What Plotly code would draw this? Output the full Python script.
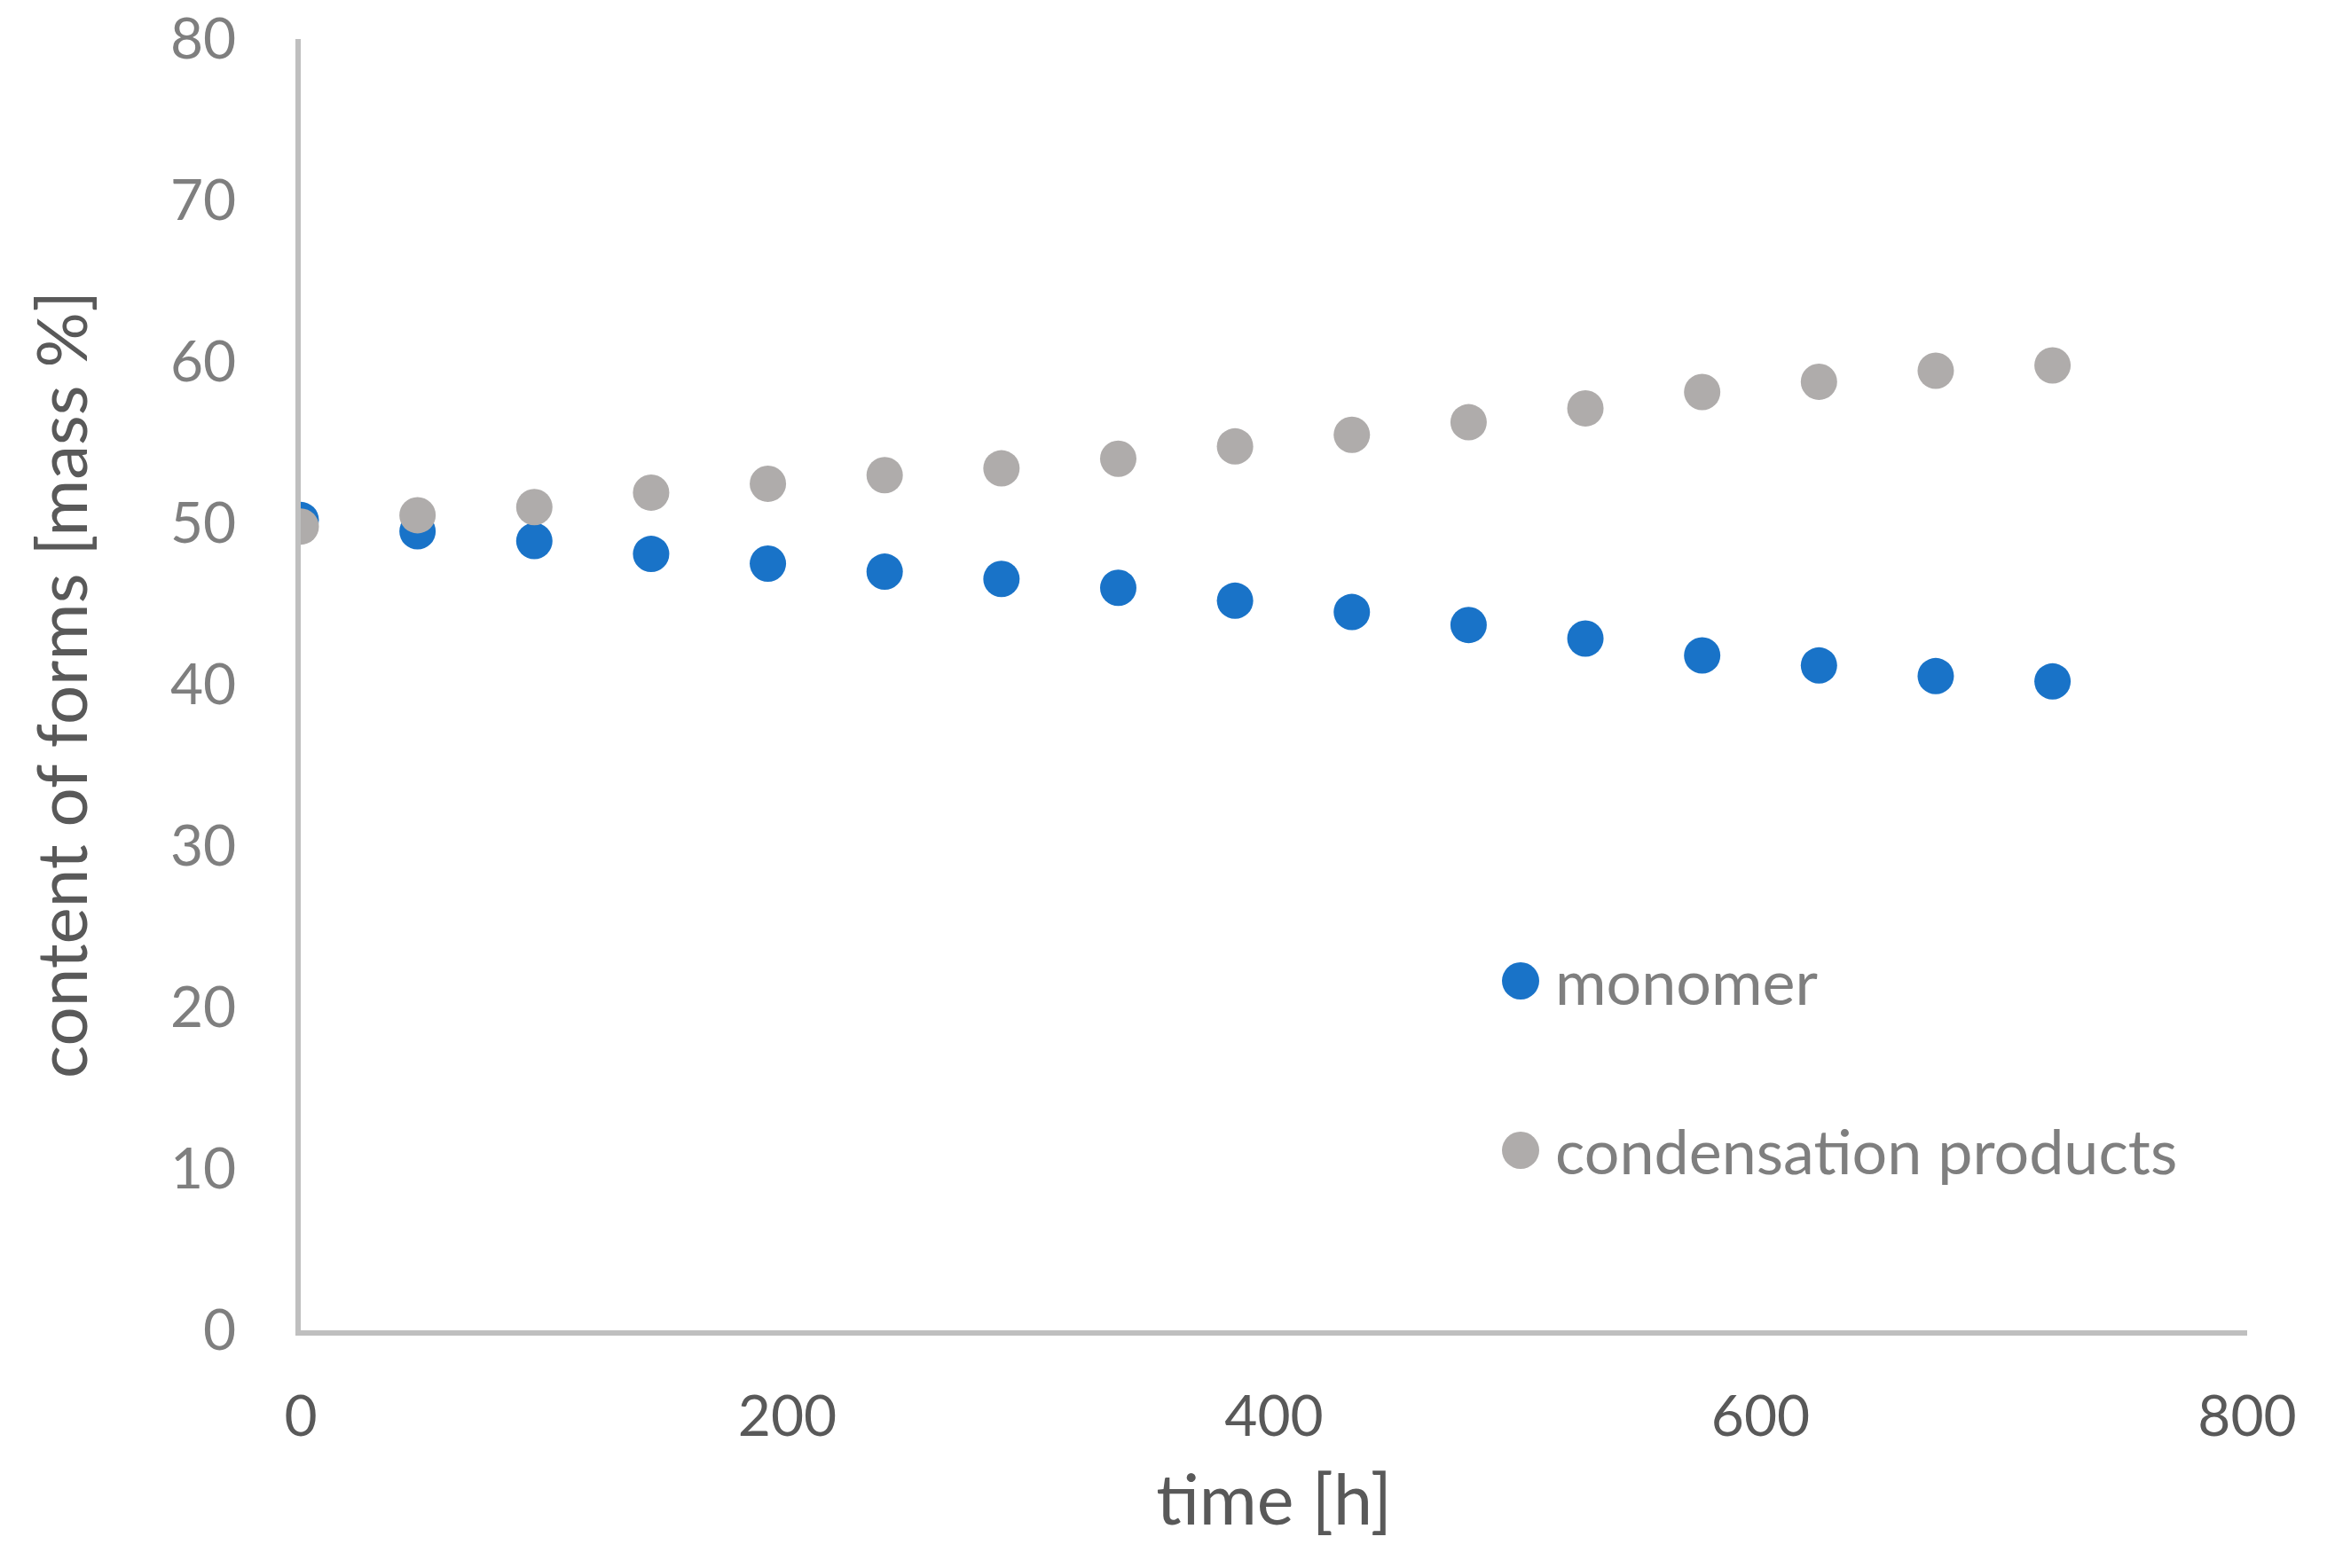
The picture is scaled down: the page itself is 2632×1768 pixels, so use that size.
import plotly.graph_objects as go

time_h = [0, 48, 96, 144, 192, 240, 288, 336, 384, 432, 480, 528, 576, 624, 672, 720]
monomer = [50.2, 49.5, 48.9, 48.1, 47.5, 47.0, 46.55, 46.0, 45.2, 44.5, 43.7, 42.86, 41.81, 41.19, 40.53, 40.2]
condensation = [49.8, 50.5, 51.0, 51.9, 52.45, 52.98, 53.4, 54.0, 54.76, 55.48, 56.26, 57.12, 58.13, 58.77, 59.45, 59.78]
series_names = ["monomer", "condensation products"]
x_ticks = [0, 200, 400, 600, 800]
y_ticks = [0, 10, 20, 30, 40, 50, 60, 70, 80]

BLUE = "#1973C8"
GREY = "#AFACAB"
FONT = "Lato"

fig = go.Figure()
fig.add_trace(go.Scatter(x=time_h, y=monomer, mode="markers", name=series_names[0],
                         marker=dict(size=41, color=BLUE), showlegend=False))
fig.add_trace(go.Scatter(x=time_h, y=condensation, mode="markers", name=series_names[1],
                         marker=dict(size=41, color=GREY), showlegend=False))

W, H = 2632, 1768
L, T = 339, 44
R = W - 2533
B = H - 1500
pw, ph = W - L - R, H - T - B

def px_x(p):
    return (p - L) / pw

def px_y(p):
    return (H - B - p) / ph

# custom legend (large markers like the original)
legend_rows = [(series_names[0], BLUE, 1106), (series_names[1], GREY, 1297)]
shapes = []
annotations = []
for name, col, ypx in legend_rows:
    shapes.append(dict(type="circle", xref="paper", yref="paper",
                       xsizemode="pixel", ysizemode="pixel",
                       xanchor=px_x(1714), yanchor=px_y(ypx),
                       x0=-21, x1=21, y0=-21, y1=21,
                       fillcolor=col, line=dict(width=0)))
    annotations.append(dict(text=name, xref="paper", yref="paper",
                            x=px_x(1751), y=px_y(ypx), xanchor="left", yanchor="middle",
                            showarrow=False, font=dict(family=FONT, size=70, color="#7F7F7F")))

fig.update_layout(
    width=W, height=H,
    margin=dict(l=L, r=R, t=T, b=B, autoexpand=False),
    paper_bgcolor="white", plot_bgcolor="white",
    shapes=shapes, annotations=annotations,
    xaxis=dict(range=[0, 800], tickvals=x_ticks, showgrid=False, zeroline=False,
               showline=True, linecolor="#BFBFBF", linewidth=6, ticks="",
               automargin=False, ticklabelstandoff=36, ticklabeloverflow="allow",
               tickfont=dict(family=FONT, size=64, color="#595959"),
               title=dict(text="time [h]", standoff=34,
                          font=dict(family=FONT, size=79, color="#595959"))),
    yaxis=dict(range=[0, 80], tickvals=y_ticks, showgrid=False, zeroline=False,
               showline=True, linecolor="#BFBFBF", linewidth=6, ticks="",
               automargin=False, ticklabelstandoff=54, ticklabeloverflow="allow",
               tickfont=dict(family=FONT, size=64, color="#7F7F7F"),
               title=dict(text="content of forms [mass %]", standoff=70,
                          font=dict(family=FONT, size=78, color="#595959"))),
)

fig.write_html("out.html", config={"displayModeBar": False},
               post_script="document.body.style.margin='0';")
